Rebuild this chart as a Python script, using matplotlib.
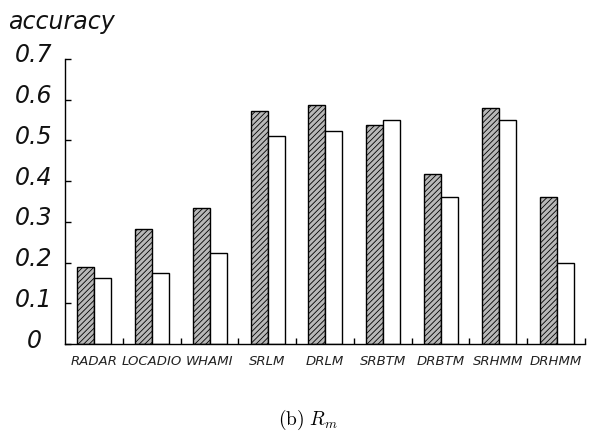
import matplotlib
matplotlib.use("Agg")
import matplotlib.pyplot as plt
import matplotlib.transforms as mtransforms
import numpy as np

plt.rcParams['mathtext.fontset'] = 'cm'
plt.rcParams['hatch.linewidth'] = 0.6

categories = ["RADAR", "LOCADIO", "WHAMI", "SRLM", "DRLM", "SRBTM", "DRBTM", "SRHMM", "DRHMM"]
series_a = [0.188, 0.283, 0.333, 0.573, 0.587, 0.538, 0.417, 0.580, 0.360]
series_b = [0.163, 0.174, 0.224, 0.511, 0.523, 0.549, 0.360, 0.549, 0.200]
yticks = [0, 0.1, 0.2, 0.3, 0.4, 0.5, 0.6, 0.7]
ytick_labels = ["0", "0.1", "0.2", "0.3", "0.4", "0.5", "0.6", "0.7"]

fig = plt.figure(figsize=(5.95, 4.32), dpi=100)
ax = fig.add_axes([65/595, 1-344/432, 520/595, (344-59)/432])

x = np.arange(len(categories))
w = 0.294
ax.bar(x + 0.213, series_a, width=w, align='edge', facecolor='#b8b8b8',
       edgecolor='black', hatch='//////', linewidth=1.0)
ax.bar(x + 0.507, series_b, width=w, align='edge', facecolor='white',
       edgecolor='black', linewidth=1.0)

ax.set_xlim(0, len(categories))
ax.set_ylim(0, 0.7)
for s in ['top', 'right']:
    ax.spines[s].set_visible(False)
ax.spines['left'].set_linewidth(1.0)
ax.spines['bottom'].set_linewidth(1.0)

ax.set_xticks(np.arange(1, len(categories) + 1))
ax.set_xticklabels([])
ax.tick_params(axis='x', which='major', direction='in', length=4, width=1)
ax.set_xticks(x + 0.5, minor=True)
ax.set_xticklabels(categories, minor=True, fontsize=9.5, style='italic',
                   family=['Liberation Sans Narrow', 'DejaVu Sans'], color='#222222')
ax.tick_params(axis='x', which='minor', length=0, pad=8)

ax.set_yticks(yticks)
ax.set_yticklabels(ytick_labels, fontsize=17, style='italic', color='#111111')
ax.tick_params(axis='y', direction='in', length=4, width=1, pad=22.3)
offset = mtransforms.ScaledTranslation(0, 6/100, fig.dpi_scale_trans)
for lab in ax.get_yticklabels():
    lab.set_horizontalalignment('center')
    lab.set_transform(lab.get_transform() + offset)

fig.text(8/595, 1-29/432, "accuracy", fontsize=17, style='italic',
         va='baseline', ha='left', color='#111111')
fig.text(308/595, 1-420/432, r"$\mathrm{(b)}\ R_m$", fontsize=14,
         ha='center', va='center')

fig.savefig("out.png", dpi=100)
